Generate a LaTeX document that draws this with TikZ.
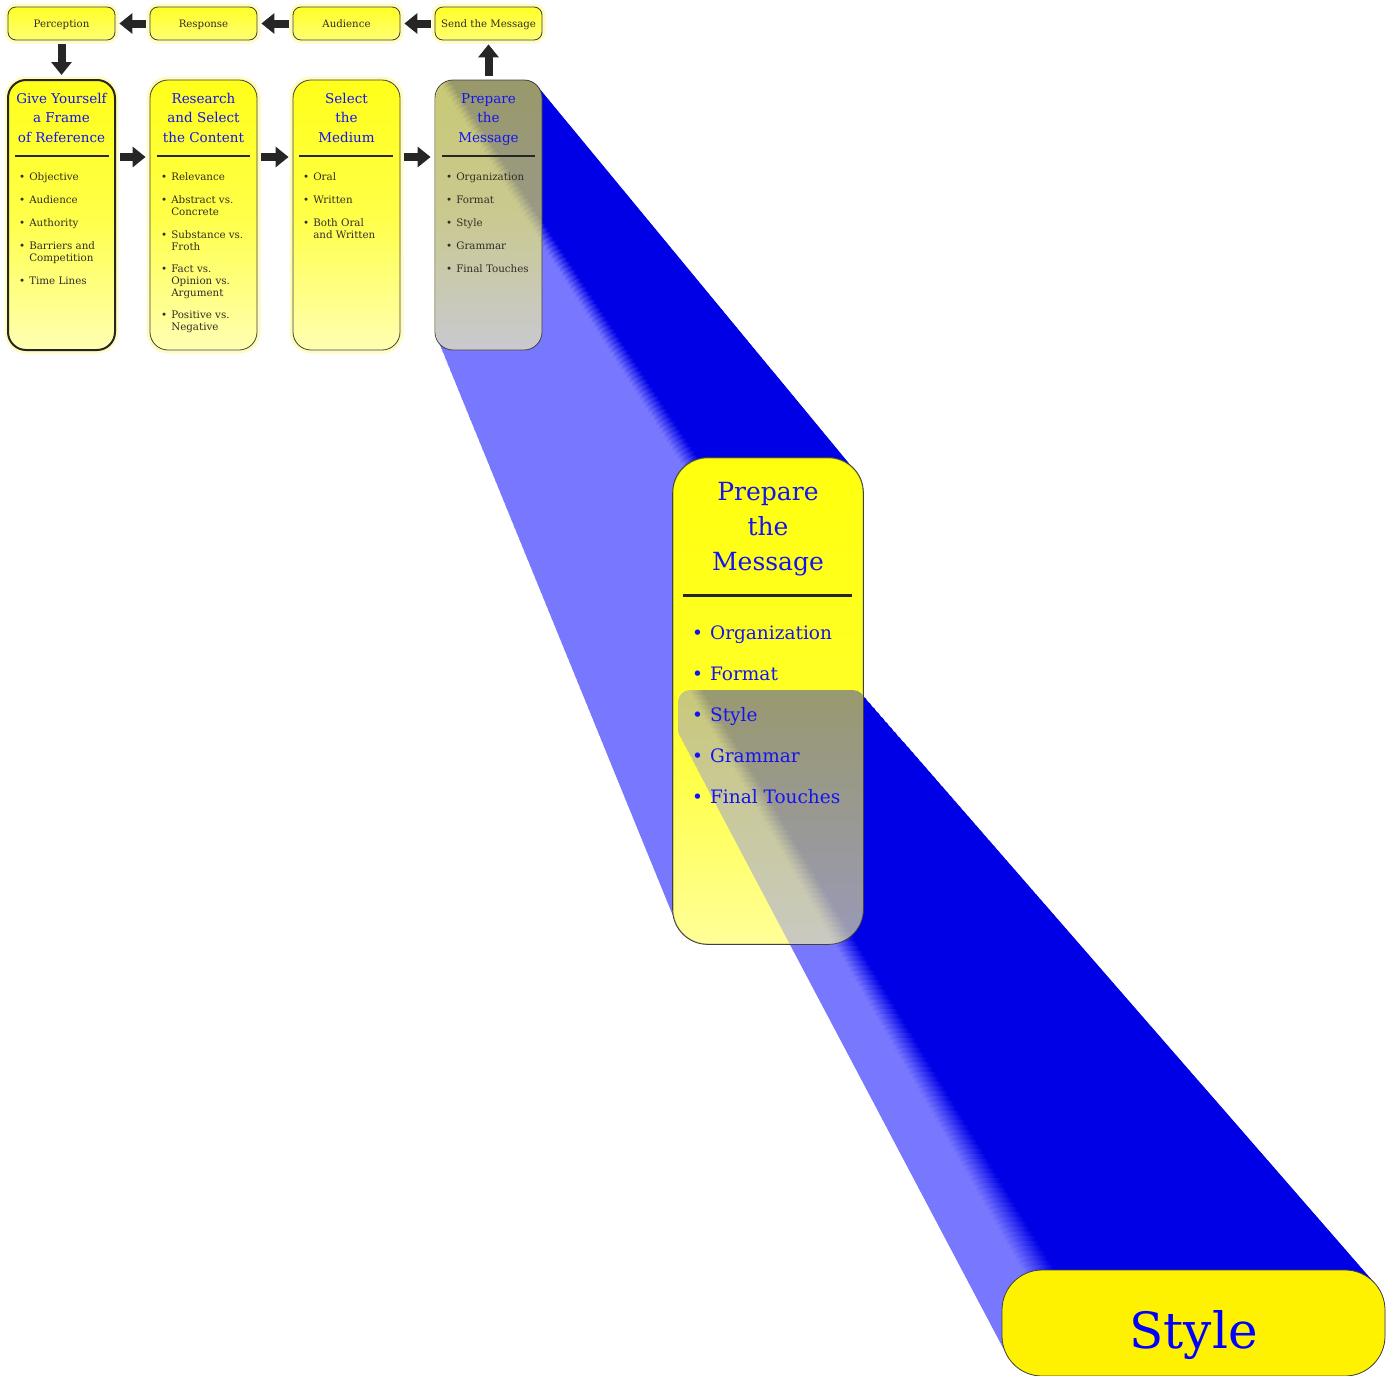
\documentclass[tikz,border=0pt]{standalone}
\usepackage{fontspec}
\setmainfont{DejaVu Serif}
\usetikzlibrary{arrows.meta}

\definecolor{beamdark}{RGB}{0,0,230}
\definecolor{beamlight}{RGB}{120,120,255}
\definecolor{titleblue}{RGB}{20,20,240}
\definecolor{itemgray}{RGB}{50,44,38}
\pgfdeclarehorizontalshading{beamshade}{100bp}{color(0bp)=(beamlight); color(28bp)=(beamlight); color(32bp)=(beamdark); color(100bp)=(beamdark)}

\newcommand\toplabelfont{\fontsize{10.2}{11}\selectfont}
\newcommand\coltitlefont{\fontsize{13.5}{19.5}\selectfont}
\newcommand\colitemfont{\fontsize{10.3}{12}\selectfont}
\newcommand\bigtitlefont{\fontsize{25}{35}\selectfont}
\newcommand\bigitemfont{\fontsize{18.5}{41}\selectfont}
\newcommand\stylefont{\fontsize{50}{60}\selectfont}

\begin{document}
\begin{tikzpicture}[x=1pt, y=-1pt,
	every node/.style={inner sep=0pt},
	glow/.style={preaction={draw=yellow!60, line width=7pt, opacity=0.4}},
	toplabel/.style={glow, draw=black!75, line width=0.8pt, rounded corners=8pt, top color=yellow!85, bottom color=yellow!55, minimum width=107pt, minimum height=33pt, font=\toplabelfont, text=itemgray, text height=7.5pt, text depth=0pt},
	mainbox/.style={draw=black!75, line width=0.8pt, rounded corners=18pt, top color=yellow!90, bottom color=yellow!30, middle color=yellow!72, minimum width=107pt, minimum height=270pt},
	coltitle/.style={anchor=north, align=center, font=\coltitlefont, text=titleblue},
	colitems/.style={anchor=north west, font=\colitemfont, text=itemgray},
	sepline/.style={draw=black!85, line width=2.5pt},
	blockarrow/.style={draw=black!85, line width=8pt, -{Triangle[length=13pt, width=20pt]}, shorten <=4pt, shorten >=4pt}]
	\useasboundingbox (0,0) rectangle (1387,1376);

	% return loop
	\node[toplabel] (perc) at (61.5,23.5) {Perception};
	\node[toplabel] (resp) at (203.5,23.5) {Response};
	\node[toplabel] (aud) at (346.5,23.5) {Audience};
	\node[toplabel] (send) at (488.5,23.5) {Send the Message};
	\draw[blockarrow] (send) -- (aud);
	\draw[blockarrow] (aud) -- (resp);
	\draw[blockarrow] (resp) -- (perc);

	% the four steps
	\node[mainbox, glow, line width=2pt, draw=black!85] (frame) at (61.5,215) {};
	\node[coltitle] (frame-t) at (61.5,93) {Give Yourself\\a Frame\\of Reference};
	\draw[sepline] (15,156) -- (109,156);
	\node[colitems] (frame-i) at (19,171.6) {\begin{tabular}{@{}l@{\hspace{4pt}}l@{}}
		\textbullet & Objective\\[11pt]
		\textbullet & Audience\\[11pt]
		\textbullet & Authority\\[11pt]
		\textbullet & Barriers and\\ & Competition\\[11pt]
		\textbullet & Time Lines
	\end{tabular}};

	\node[mainbox, glow] (research) at (203.5,215) {};
	\node[coltitle] (research-t) at (203.5,93) {Research\\and Select\\the Content};
	\draw[sepline] (157,156) -- (250,156);
	\node[colitems] (research-i) at (161,171.6) {\begin{tabular}{@{}l@{\hspace{4pt}}l@{}}
		\textbullet & Relevance\\[11pt]
		\textbullet & Abstract vs.\\ & Concrete\\[11pt]
		\textbullet & Substance vs.\\ & Froth\\[10pt]
		\textbullet & Fact vs.\\ & Opinion vs.\\ & Argument\\[10pt]
		\textbullet & Positive vs.\\ & Negative
	\end{tabular}};

	\node[mainbox, glow] (medium) at (346.5,215) {};
	\node[coltitle] (medium-t) at (346.5,93) {Select\\the\\Medium};
	\draw[sepline] (299,156) -- (393,156);
	\node[colitems] (medium-i) at (303,171.6) {\begin{tabular}{@{}l@{\hspace{4pt}}l@{}}
		\textbullet & Oral\\[11pt]
		\textbullet & Written\\[11pt]
		\textbullet & Both Oral\\ & and Written
	\end{tabular}};

	\draw[blockarrow] (perc) -- (frame);
	\draw[blockarrow] (frame.east |- 0,157) -- (research.west |- 0,157);
	\draw[blockarrow] (research.east |- 0,157) -- (medium.west |- 0,157);

	% first zoom beam
	\foreach \i in {0,...,90}{
		\pgfmathsetmacro\bt{\i/90}
		\pgfmathsetmacro\bxa{436+237*\bt}
		\pgfmathsetmacro\bya{80+378*\bt}
		\pgfmathsetmacro\bxb{542+321*\bt}
		\pgfmathsetmacro\byb{350+594*\bt}
		\pgfmathsetmacro\brad{18+17*\bt}
		\shade[shading=beamshade, rounded corners=\brad pt] (\bxa,\bya) rectangle (\bxb,\byb);
	}

	\node[mainbox, fill opacity=0.6] (prep) at (488.5,215) {};
	\node[coltitle] (prep-t) at (488.5,93) {Prepare\\the\\Message};
	\draw[sepline] (442,156) -- (535,156);
	\node[colitems] (prep-i) at (446,171.6) {\begin{tabular}{@{}l@{\hspace{4pt}}l@{}}
		\textbullet & Organization\\[11pt]
		\textbullet & Format\\[11pt]
		\textbullet & Style\\[11pt]
		\textbullet & Grammar\\[11pt]
		\textbullet & Final Touches
	\end{tabular}};
	\draw[blockarrow] (medium.east |- 0,157) -- (prep.west |- 0,157);
	\draw[blockarrow] (prep) -- (send);

	% magnified step
	\node[mainbox, rounded corners=35pt, top color=yellow!95, bottom color=yellow!40, middle color=yellow!85, minimum width=190pt, minimum height=486pt] (prep-big) at (768,701) {};

	% second zoom beam
	\foreach \i in {0,...,120}{
		\pgfmathsetmacro\bt{\i/120}
		\pgfmathsetmacro\bxa{678+324*\bt}
		\pgfmathsetmacro\bya{690+580*\bt}
		\pgfmathsetmacro\bxb{865+520*\bt}
		\pgfmathsetmacro\byb{742+634*\bt}
		\pgfmathsetmacro\brad{12+28*\bt}
		\shade[shading=beamshade, rounded corners=\brad pt] (\bxa,\bya) rectangle (\bxb,\byb);
	}

	\shade[top color=yellow!95, bottom color=yellow!40, middle color=yellow!85, opacity=0.6, rounded corners=35pt] (prep-big.north west) rectangle (prep-big.south east);
	\draw[draw=black!75, line width=0.8pt, rounded corners=35pt] (prep-big.north west) rectangle (prep-big.south east);
	\node[coltitle, font=\bigtitlefont] (prep-big-t) at (768,482) {Prepare\\the\\Message};
	\draw[sepline, line width=3pt] (683,595) -- (852,595);
	\node[colitems, font=\bigitemfont, text=titleblue] (prep-big-i) at (692,611) {\begin{tabular}{@{}l@{\hspace{7pt}}l@{}}
		\textbullet & Organization\\
		\textbullet & Format\\
		\textbullet & Style\\
		\textbullet & Grammar\\
		\textbullet & Final Touches
	\end{tabular}};

	% final zoom
	\node[draw=black!75, line width=0.8pt, fill=yellow, rounded corners=40pt, minimum width=383pt, minimum height=106pt, font=\stylefont, text=blue, text height=50pt, text depth=0pt] (style) at (1193.5,1323) {Style};
\end{tikzpicture}
\end{document}
